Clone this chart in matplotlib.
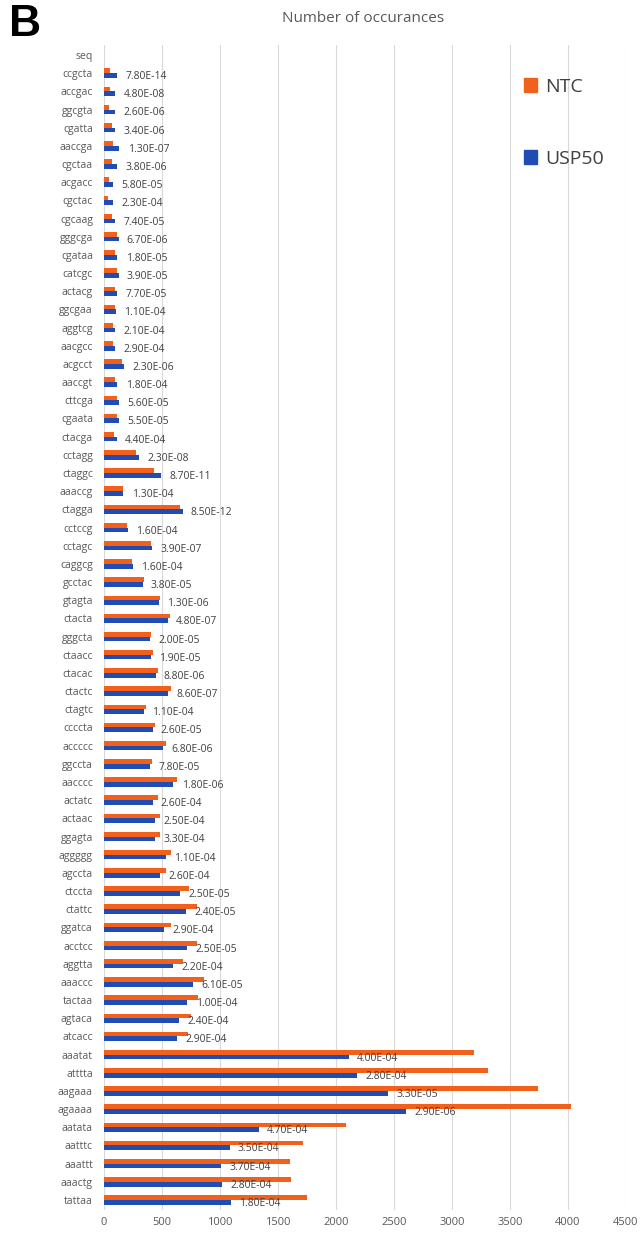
import matplotlib
matplotlib.use("Agg")
import matplotlib.pyplot as plt
from matplotlib.patches import Patch
import numpy as np

# top-to-bottom order as in the figure ("seq" is the header row, no bars)
categories = ["seq", "ccgcta", "accgac", "ggcgta", "cgatta", "aaccga", "cgctaa", "acgacc",
              "cgctac", "cgcaag", "gggcga", "cgataa", "catcgc", "actacg", "ggcgaa", "aggtcg",
              "aacgcc", "acgcct", "aaccgt", "cttcga", "cgaata", "ctacga", "cctagg", "ctaggc",
              "aaaccg", "ctagga", "cctccg", "cctagc", "caggcg", "gcctac", "gtagta", "ctacta",
              "gggcta", "ctaacc", "ctacac", "ctactc", "ctagtc", "ccccta", "accccc", "ggccta",
              "aacccc", "actatc", "actaac", "ggagta", "aggggg", "agccta", "ctccta", "ctattc",
              "ggatca", "acctcc", "aggtta", "aaaccc", "tactaa", "agtaca", "atcacc", "aaatat",
              "atttta", "aagaaa", "agaaaa", "aatata", "aatttc", "aaattt", "aaactg", "tattaa"]

ntc = [50, 50, 45, 65, 80, 70, 45, 35, 70, 110, 95, 110, 95, 95, 80, 80, 152, 95, 115,
       110, 90, 273, 434, 161, 655, 195, 405, 239, 345, 483, 569, 402, 419, 463, 578,
       359, 440, 532, 411, 627, 463, 483, 483, 581, 532, 736, 799, 578, 799, 678, 862,
       813, 749, 721, 3193, 3312, 3745, 4026, 2085, 1716, 1600, 1610, 1747]

usp50 = [110, 95, 95, 95, 132, 110, 78, 78, 95, 125, 115, 125, 115, 100, 95, 95, 175,
         115, 132, 132, 110, 305, 491, 167, 678, 204, 414, 247, 333, 471, 549, 396, 402,
         445, 549, 342, 419, 511, 396, 598, 419, 437, 437, 532, 483, 655, 707, 517, 718,
         598, 764, 718, 650, 633, 2110, 2180, 2451, 2602, 1336, 1083, 1009, 1020, 1093]

pvals = ["7.80E-14", "4.80E-08", "2.60E-06", "3.40E-06", "1.30E-07", "3.80E-06",
         "5.80E-05", "2.30E-04", "7.40E-05", "6.70E-06", "1.80E-05", "3.90E-05",
         "7.70E-05", "1.10E-04", "2.10E-04", "2.90E-04", "2.30E-06", "1.80E-04",
         "5.60E-05", "5.50E-05", "4.40E-04", "2.30E-08", "8.70E-11", "1.30E-04",
         "8.50E-12", "1.60E-04", "3.90E-07", "1.60E-04", "3.80E-05", "1.30E-06",
         "4.80E-07", "2.00E-05", "1.90E-05", "8.80E-06", "8.60E-07", "1.10E-04",
         "2.60E-05", "6.80E-06", "7.80E-05", "1.80E-06", "2.60E-04", "2.50E-04",
         "3.30E-04", "1.10E-04", "2.60E-04", "2.50E-05", "2.40E-05", "2.90E-04",
         "2.50E-05", "2.20E-04", "6.10E-05", "1.00E-04", "2.40E-04", "2.90E-04",
         "4.00E-04", "2.80E-04", "3.30E-05", "2.90E-06", "4.70E-04", "3.50E-04",
         "3.70E-04", "2.80E-04", "1.80E-04"]

orange = "#F2611C"
blue = "#1F4DB5"
txt = "#404040"

plt.rcParams["font.family"] = ["Open Sans", "DejaVu Sans"]

fig = plt.figure(figsize=(6.4, 12.33), dpi=100)
ax = fig.add_axes([104 / 640, 1 - 1210 / 1233, (626 - 104) / 640, (1210 - 45) / 1233])

pos = np.arange(1, len(categories))
h = 0.26
ax.barh(pos - h / 2, ntc, height=h, color=orange, label="NTC")
ax.barh(pos + h / 2, usp50, height=h, color=blue, label="USP50")

# p-values written next to the USP50 bar
for y, v, p in zip(pos, usp50, pvals):
    ax.annotate(p, (v, y + h / 2), xytext=(6, -0.8), textcoords="offset points",
                va="center", ha="left", fontsize=7.5, color=txt)

ax.set_ylim(len(categories) - 0.45, -0.55)
ax.set_yticks(np.arange(len(categories)))
ax.set_yticklabels(categories, fontsize=7.5, color="#595959")
ax.set_xlim(0, 4500)
ax.set_xticks(np.arange(0, 4501, 500))
ax.tick_params(axis="x", labelsize=8, labelcolor="#595959", length=0, pad=5)
ax.tick_params(axis="y", length=0, pad=8)
ax.grid(axis="x", color="#D9D9D9", linewidth=0.8)
ax.set_axisbelow(True)
for s in ax.spines.values():
    s.set_visible(False)

fig.text(363 / 640, 1 - 18 / 1233, "Number of occurances", ha="center", va="center",
         fontsize=11, color="#595959")
fig.text(9 / 640, 1 - 25 / 1233, "B", ha="left", va="center", fontsize=32,
         fontweight="bold", family="Liberation Sans", color="black")

handles = [Patch(color=orange), Patch(color=blue)]
fig.legend(handles, ["NTC", "USP50"], loc="upper left",
           bbox_to_anchor=(506 / 640, 1 - 60 / 1233), frameon=False, fontsize=14,
           handlelength=0.7, handleheight=0.7, handletextpad=0.4, labelspacing=2.8,
           labelcolor="#404040")

fig.savefig("out.png", dpi=100)
